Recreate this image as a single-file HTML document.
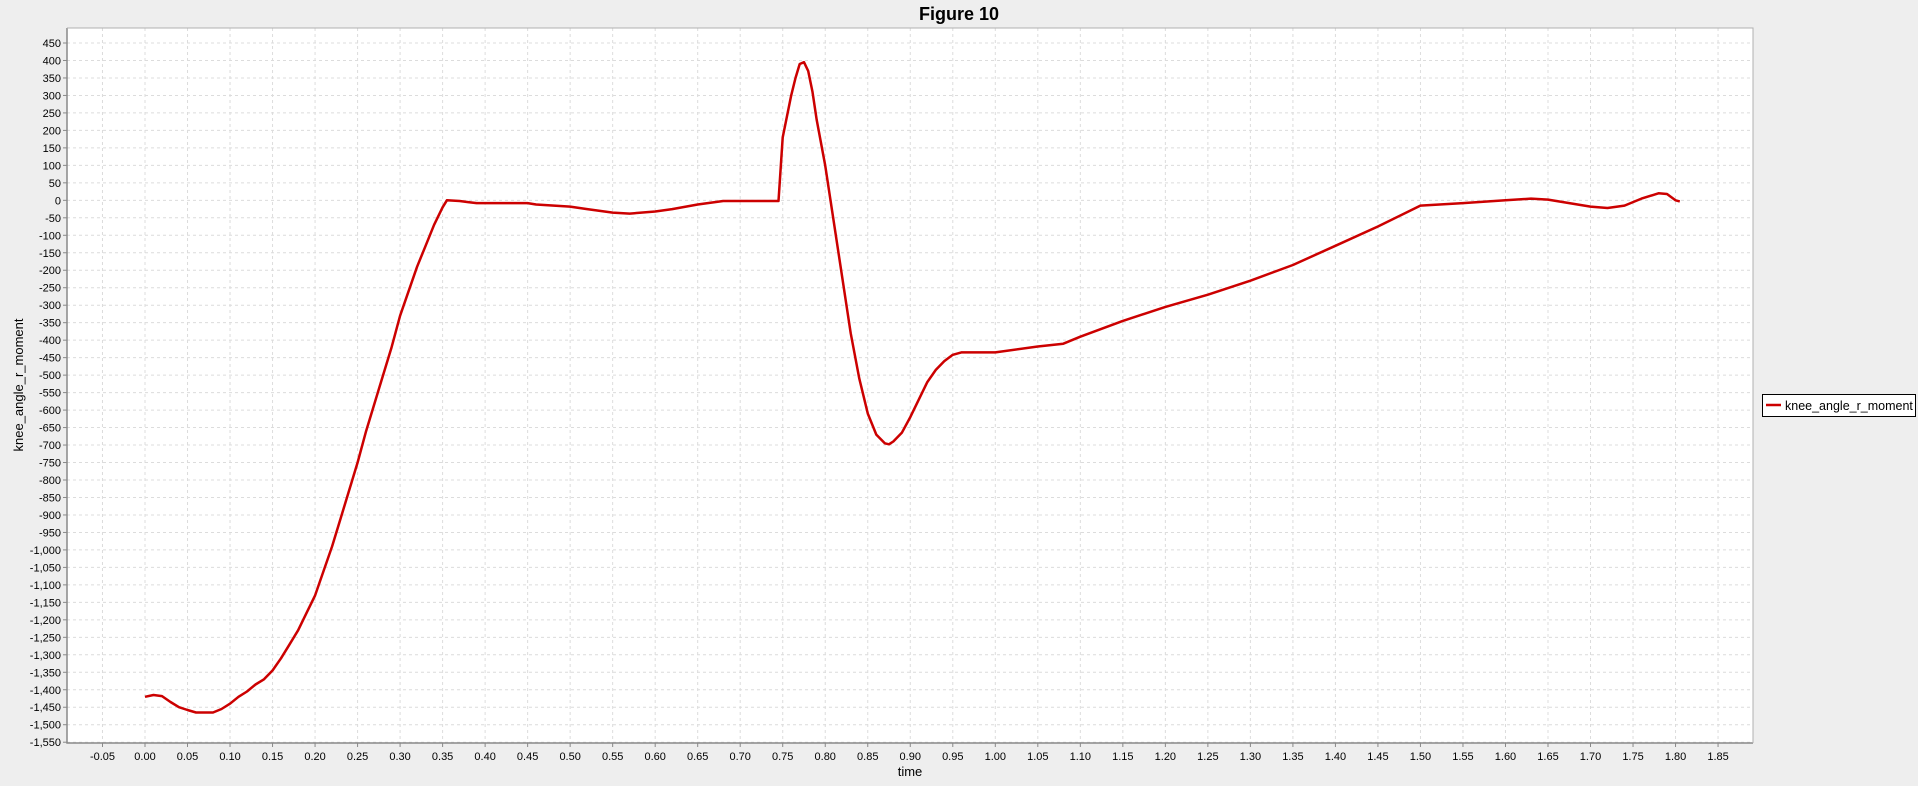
<!DOCTYPE html>
<html><head><meta charset="utf-8"><style>
html,body{margin:0;padding:0;background:#eeeeee;}
svg{display:block;font-family:"Liberation Sans",Arial,sans-serif;}
</style></head><body>
<svg id="chart" width="1918" height="786" xmlns="http://www.w3.org/2000/svg">
<rect x="0" y="0" width="1918" height="786" fill="#eeeeee"/>
<text x="959" y="20" text-anchor="middle" font-size="18" font-weight="bold" fill="#000">Figure 10</text>
<rect x="67" y="28" width="1686" height="715" fill="#ffffff"/>
<g id="grid"></g>
<g id="ticks"></g>
<path d="M67 28 V743 H1753" fill="none" stroke="#888" stroke-width="1.5"/>
<path d="M67 28 H1753 V743" fill="none" stroke="#b0b0b0" stroke-width="1"/>
<g id="series"></g>
<text x="910" y="776" text-anchor="middle" font-size="13" fill="#000">time</text>
<text transform="translate(23,385) rotate(-90)" text-anchor="middle" font-size="13" fill="#000">knee_angle_r_moment</text>
<g>
<rect x="1762.5" y="394.5" width="153" height="22" fill="#fff" stroke="#000" stroke-width="1"/>
<line x1="1766" y1="405" x2="1781" y2="405" stroke="#cc0000" stroke-width="2.5"/>
<text x="1785" y="410" font-size="12.5" fill="#000">knee_angle_r_moment</text>
</g>
</svg>
<script>
const times=[0,0.01,0.02,0.03,0.04,0.05,0.06,0.07,0.08,0.09,0.10,0.11,0.12,0.13,0.14,0.15,0.16,0.17,0.18,0.19,0.20,0.21,0.22,0.23,0.24,0.25,0.26,0.27,0.28,0.29,0.30,0.31,0.32,0.33,0.34,0.35,0.355,0.37,0.38,0.39,0.45,0.46,0.50,0.52,0.55,0.57,0.60,0.62,0.65,0.68,0.745,0.75,0.76,0.765,0.77,0.775,0.78,0.785,0.79,0.80,0.81,0.82,0.83,0.84,0.85,0.86,0.87,0.875,0.88,0.89,0.90,0.91,0.92,0.93,0.94,0.95,0.96,1.00,1.05,1.08,1.10,1.15,1.20,1.25,1.30,1.35,1.40,1.45,1.50,1.55,1.60,1.63,1.65,1.70,1.72,1.74,1.76,1.78,1.79,1.80,1.805];
const moments=[-1420,-1415,-1418,-1435,-1450,-1458,-1465,-1465,-1465,-1455,-1440,-1420,-1405,-1385,-1370,-1345,-1310,-1270,-1230,-1180,-1130,-1060,-990,-910,-830,-750,-660,-580,-500,-420,-330,-260,-190,-130,-70,-20,0,-2,-5,-8,-8,-12,-18,-25,-35,-38,-32,-25,-12,-2,-2,180,300,350,390,395,370,310,230,100,-60,-220,-380,-510,-610,-670,-695,-698,-690,-665,-620,-570,-520,-485,-460,-442,-435,-435,-418,-410,-390,-345,-305,-270,-230,-185,-130,-75,-15,-8,0,5,2,-18,-22,-15,5,20,18,0,-3];
const xTicks=[-0.05,0,0.05,0.1,0.15,0.2,0.25,0.3,0.35,0.4,0.45,0.5,0.55,0.6,0.65,0.7,0.75,0.8,0.85,0.9,0.95,1.0,1.05,1.1,1.15,1.2,1.25,1.3,1.35,1.4,1.45,1.5,1.55,1.6,1.65,1.7,1.75,1.8,1.85];
const yTicks=[];for(let v=450;v>=-1550;v-=50)yTicks.push(v);
const NS="http://www.w3.org/2000/svg";
const X=t=>145+t*850.3;
const Y=v=>43+(450-v)*0.3496;
function mk(tag,attrs,parent){const e=document.createElementNS(NS,tag);for(const k in attrs)e.setAttribute(k,attrs[k]);parent.appendChild(e);return e;}
const grid=document.getElementById('grid'),ticks=document.getElementById('ticks'),series=document.getElementById('series');
const fmt=v=>{const s=Math.abs(v).toString().replace(/\B(?=(\d{3})+(?!\d))/g,',');return (v<0?'-':'')+s;};
xTicks.forEach(t=>{const x=X(t);
 const g=mk('line',{x1:x,y1:28,x2:x,y2:743,stroke:'#dcdcdc','stroke-dasharray':'3,3'},grid);
 
 
 mk('line',{x1:x,y1:743,x2:x,y2:747,stroke:'#888'},ticks);
 const l=mk('text',{x:x,y:760,'text-anchor':'middle','font-size':'11',fill:'#000'},ticks);
 
 
 l.textContent=t.toFixed(2);});
yTicks.forEach(v=>{const y=Y(v);
 const g=mk('line',{x1:67,y1:y,x2:1753,y2:y,stroke:'#dcdcdc','stroke-dasharray':'3,3'},grid);
 
 
 mk('line',{x1:63,y1:y,x2:67,y2:y,stroke:'#888'},ticks);
 const l=mk('text',{x:61,y:y+4,'text-anchor':'end','font-size':'11',fill:'#000'},ticks);
 
 
 l.textContent=fmt(v);});
const d=times.map((t,i)=>(i?'L':'M')+X(t).toFixed(1)+' '+Y(moments[i]).toFixed(1)).join(' ');
const p=mk('path',{d:d,fill:'none',stroke:'#cc0000','stroke-width':'2.5','stroke-linejoin':'round'},series);


</script>
</body></html>
